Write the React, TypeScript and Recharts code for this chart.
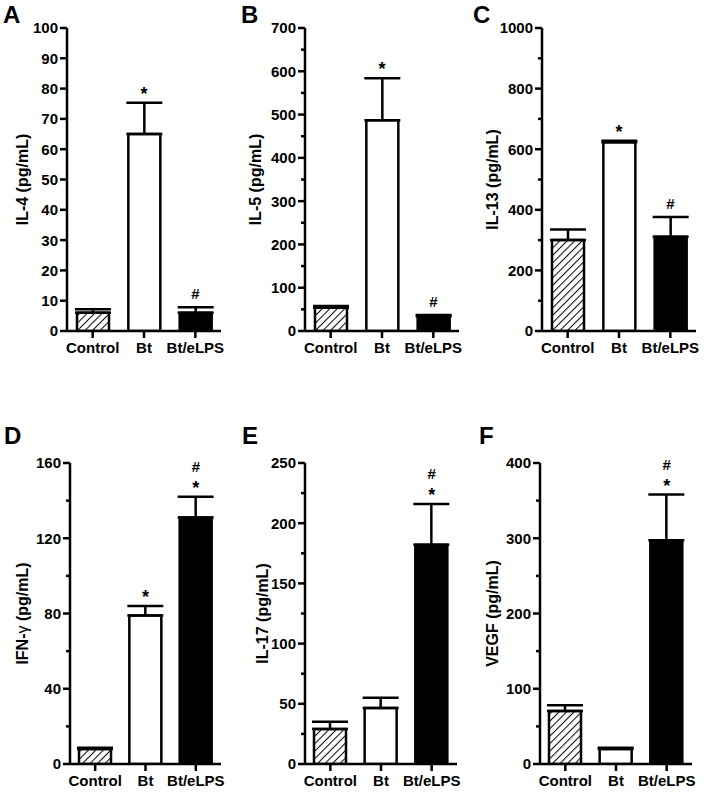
import React from 'react';
import { BarChart, Bar, XAxis, YAxis, Cell, ErrorBar, ReferenceDot } from 'recharts';

const categories = ['Control', 'Bt', 'Bt/eLPS'];

const il4Values = [6, 65, 6];
const il4ErrTops = [7.2, 75.3, 7.8];
const il4Marks = ['', '*', '#'];
const il4Ticks = [0, 10, 20, 30, 40, 50, 60, 70, 80, 90, 100];
const il4Labeled = [0, 10, 20, 30, 40, 50, 60, 70, 80, 90, 100];

const il5Values = [54, 487, 34];
const il5ErrTops = [58, 584, 37];
const il5Marks = ['', '*', '#'];
const il5Ticks = [0, 50, 100, 150, 200, 250, 300, 350, 400, 450, 500, 550, 600, 650, 700];
const il5Labeled = [0, 100, 200, 300, 400, 500, 600, 700];

const il13Values = [300, 623, 311];
const il13ErrTops = [335, 628, 376];
const il13Marks = ['', '*', '#'];
const il13Ticks = [0, 100, 200, 300, 400, 500, 600, 700, 800, 900, 1000];
const il13Labeled = [0, 200, 400, 600, 800, 1000];

const ifngValues = [8, 79, 131];
const ifngErrTops = [8.6, 84, 142];
const ifngMarks = ['', '*', '*#'];
const ifngTicks = [0, 20, 40, 60, 80, 100, 120, 140, 160];
const ifngLabeled = [0, 40, 80, 120, 160];

const il17Values = [29, 46.5, 182];
const il17ErrTops = [35, 55, 216];
const il17Marks = ['', '', '*#'];
const il17Ticks = [0, 25, 50, 75, 100, 125, 150, 175, 200, 225, 250];
const il17Labeled = [0, 50, 100, 150, 200, 250];

const vegfValues = [70.5, 20, 297.5];
const vegfErrTops = [78, 21.5, 358];
const vegfMarks = ['', '', '*#'];
const vegfTicks = [0, 50, 100, 150, 200, 250, 300, 350, 400];
const vegfLabeled = [0, 100, 200, 300, 400];

const FONT = '"Liberation Sans", Arial, Helvetica, sans-serif';
const barFills = ['url(#hatch)', '#ffffff', '#000000'];

type Panel = {
  letter: string;
  label: React.ReactNode;
  values: number[];
  errTops: number[];
  marks: string[];
  ticks: number[];
  labeled: number[];
  axisX: number;
  right: number;
  top: number;
  bottom: number;
  labelX: number;
  letterX: number;
  letterY: number;
};

const panels: Panel[] = [
  { letter: 'A', label: 'IL-4 (pg/mL)', values: il4Values, errTops: il4ErrTops, marks: il4Marks, ticks: il4Ticks, labeled: il4Labeled,
    axisX: 67, right: 221, top: 28, bottom: 331, labelX: 22, letterX: 3, letterY: 23 },
  { letter: 'B', label: 'IL-5 (pg/mL)', values: il5Values, errTops: il5ErrTops, marks: il5Marks, ticks: il5Ticks, labeled: il5Labeled,
    axisX: 305, right: 459, top: 28, bottom: 331, labelX: 255, letterX: 241, letterY: 23 },
  { letter: 'C', label: 'IL-13 (pg/mL)', values: il13Values, errTops: il13ErrTops, marks: il13Marks, ticks: il13Ticks, labeled: il13Labeled,
    axisX: 542, right: 696, top: 28, bottom: 331, labelX: 492, letterX: 473, letterY: 23 },
  { letter: 'D', label: (<>IFN-<tspan fontWeight="normal">γ</tspan> (pg/mL)</>), values: ifngValues, errTops: ifngErrTops, marks: ifngMarks, ticks: ifngTicks, labeled: ifngLabeled,
    axisX: 70, right: 221, top: 463, bottom: 764, labelX: 22, letterX: 4, letterY: 444 },
  { letter: 'E', label: 'IL-17 (pg/mL)', values: il17Values, errTops: il17ErrTops, marks: il17Marks, ticks: il17Ticks, labeled: il17Labeled,
    axisX: 305, right: 457, top: 463, bottom: 764, labelX: 262, letterX: 242, letterY: 444 },
  { letter: 'F', label: 'VEGF (pg/mL)', values: vegfValues, errTops: vegfErrTops, marks: vegfMarks, ticks: vegfTicks, labeled: vegfLabeled,
    axisX: 540, right: 692, top: 463, bottom: 764, labelX: 492, letterX: 479, letterY: 444 },
];

const YAXIS_W = 70;
const TOP_PAD = 15;
const XAXIS_H = 35;
const RIGHT_PAD = 10;

const makeYTick = (labeled: number[]) => (props: any) => {
  const { x, y, payload } = props;
  const major = labeled.includes(payload.value);
  return (
    <g>
      <line x1={x - (major ? 7 : 4)} x2={x} y1={y} y2={y} stroke="#000" strokeWidth={2.5} />
      {major && (
        <text x={x - 9} y={y} dy="0.36em" textAnchor="end" fontSize={15} fontWeight="bold" fill="#000" fontFamily={FONT}>
          {payload.value}
        </text>
      )}
    </g>
  );
};

const makeMarkShape = (mark: string) => (props: any) => {
  const { cx, cy } = props;
  const hasStar = mark.includes('*');
  const hasHash = mark.includes('#');
  return (
    <g>
      {hasStar && (
        <text x={cx} y={cy - 3} textAnchor="middle" fontSize={18} fontWeight="bold" fill="#000" fontFamily={FONT}>*</text>
      )}
      {hasHash && (
        <text x={cx} y={cy - (hasStar ? 25 : 8)} textAnchor="middle" fontSize={15} fontWeight="bold" fill="#000" fontFamily={FONT}>#</text>
      )}
    </g>
  );
};

function PanelChart({ p }: { p: Panel }) {
  const data = categories.map((name, i) => ({
    name,
    value: p.values[i],
    err: [0, p.errTops[i] - p.values[i]],
  }));
  const width = p.right - p.axisX + YAXIS_W + RIGHT_PAD;
  const height = p.bottom - p.top + TOP_PAD + XAXIS_H;
  const domainMax = p.ticks[p.ticks.length - 1];
  return (
    <div style={{ position: 'absolute', left: p.axisX - YAXIS_W, top: p.top - TOP_PAD, width, height }}>
      <BarChart width={width} height={height} data={data} margin={{ top: TOP_PAD, right: RIGHT_PAD, bottom: 0, left: 0 }} barCategoryGap={0}>
        <XAxis
          dataKey="name"
          height={XAXIS_H}
          interval={0}
          tickSize={7}
          tickMargin={4}
          axisLine={{ stroke: '#000', strokeWidth: 2.5 }}
          tickLine={{ stroke: '#000', strokeWidth: 2.5 }}
          tick={{ fill: '#000', fontSize: 15, fontWeight: 'bold', fontFamily: FONT }}
        />
        <YAxis
          width={YAXIS_W}
          domain={[0, domainMax]}
          ticks={p.ticks}
          interval={0}
          allowDataOverflow
          tickSize={0}
          tickMargin={0}
          tickLine={false}
          axisLine={{ stroke: '#000', strokeWidth: 2.5 }}
          tick={makeYTick(p.labeled)}
        />
        <Bar dataKey="value" barSize={32} stroke="#000" strokeWidth={2.5} isAnimationActive={false}>
          {data.map((d, i) => (
            <Cell key={d.name} fill={barFills[i]} />
          ))}
          <ErrorBar dataKey="err" direction="y" width={18} stroke="#000" strokeWidth={2.5} isAnimationActive={false} />
        </Bar>
        {categories.map((c, i) =>
          p.marks[i] ? (
            <ReferenceDot key={c} x={c} y={p.errTops[i]} r={1} ifOverflow="visible" shape={makeMarkShape(p.marks[i])} />
          ) : null
        )}
      </BarChart>
    </div>
  );
}

export default function App() {
  return (
    <div style={{ position: 'absolute', left: 0, top: 0, width: 704, height: 792, background: '#fff', fontFamily: FONT }}>
      <svg width={0} height={0} style={{ position: 'absolute' }}>
        <defs>
          <pattern id="hatch" patternUnits="userSpaceOnUse" width={5.3} height={5.3} patternTransform="rotate(45)">
            <rect x={0} y={0} width={5.3} height={5.3} fill="#fff" />
            <line x1={0} y1={0} x2={0} y2={5.3} stroke="#000" strokeWidth={2} />
          </pattern>
        </defs>
      </svg>
      {panels.map((p) => (
        <PanelChart key={p.letter} p={p} />
      ))}
      <svg width={704} height={792} style={{ position: 'absolute', left: 0, top: 0, pointerEvents: 'none' }}>
        {panels.map((p) => (
          <g key={p.letter} fontFamily={FONT} fontWeight="bold" fill="#000">
            <text x={p.letterX} y={p.letterY} fontSize={24}>{p.letter}</text>
            <text
              transform={`translate(${p.labelX},${(p.top + p.bottom) / 2}) rotate(-90)`}
              textAnchor="middle"
              dy="0.36em"
              fontSize={16}
            >
              {p.label}
            </text>
          </g>
        ))}
      </svg>
    </div>
  );
}
